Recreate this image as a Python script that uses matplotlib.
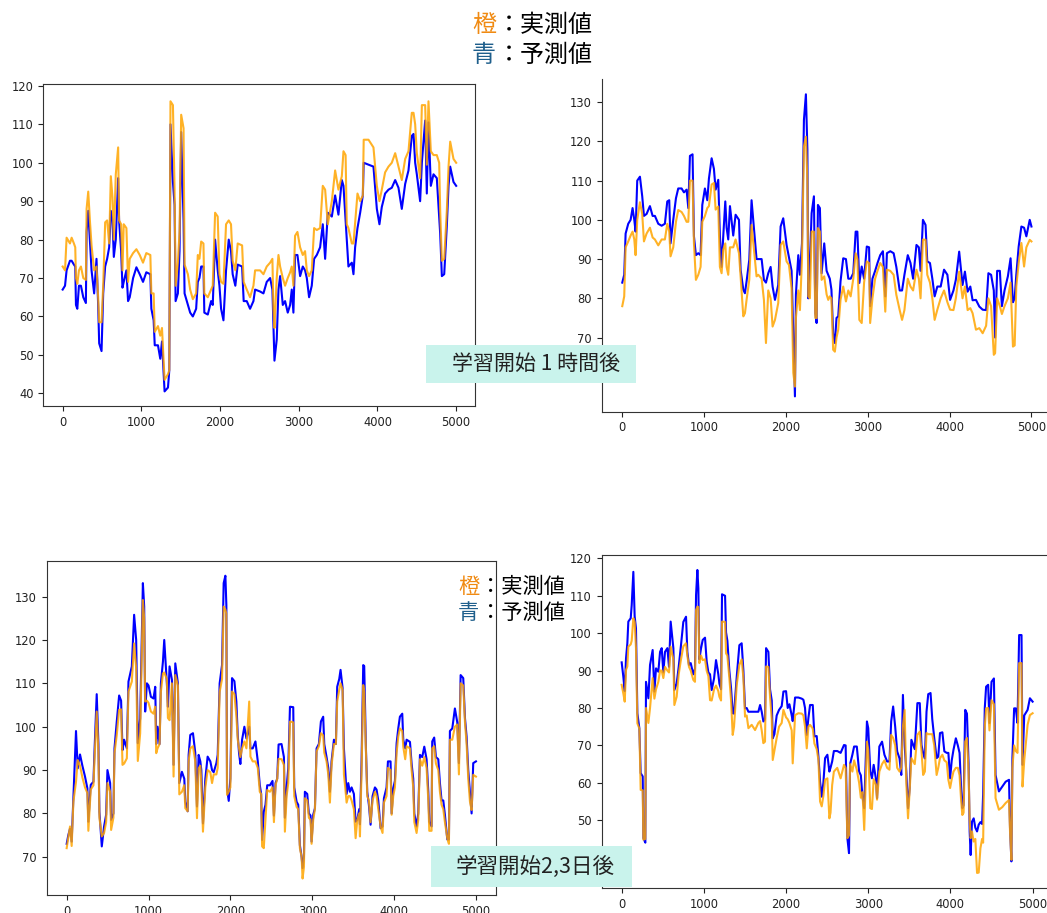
import numpy as np
import matplotlib
matplotlib.use('Agg')
import matplotlib.pyplot as plt
from matplotlib.patches import Rectangle

W, H = 1047, 913

# top-left panel: time step, actual (orange), predicted (blue)
tl_t = [0, 30, 50, 93, 114, 143, 160, 169, 186, 207,
        232, 262, 295, 304, 325, 346, 367, 400, 430, 451,
        464, 494, 515, 540, 565, 591, 612, 633, 650, 675,
        705, 717, 743, 760, 776, 810, 831, 852, 895, 937,
        979, 1021, 1063, 1114, 1127, 1156, 1170, 1211, 1240, 1262,
        1295, 1338, 1355, 1370, 1401, 1422, 1435, 1464, 1485, 1506,
        1536, 1549, 1591, 1620, 1654, 1696, 1717, 1738, 1760, 1789,
        1800, 1844, 1886, 1907, 1937, 1970, 1992, 2013, 2043, 2076,
        2110, 2139, 2160, 2194, 2224, 2280, 2300, 2339, 2381, 2424,
        2445, 2508, 2551, 2593, 2636, 2665, 2678, 2691, 2720, 2742,
        2763, 2797, 2826, 2860, 2890, 2911, 2932, 2953, 2983, 3017,
        3051, 3080, 3102, 3131, 3165, 3195, 3229, 3271, 3305, 3335,
        3369, 3420, 3462, 3504, 3547, 3568, 3595, 3610, 3631, 3674,
        3695, 3716, 3746, 3780, 3814, 3825, 3886, 3949, 3992, 4025,
        4055, 4097, 4140, 4182, 4225, 4267, 4309, 4352, 4394, 4436,
        4458, 4479, 4500, 4542, 4564, 4606, 4627, 4648, 4678, 4712,
        4754, 4784, 4797, 4818, 4848, 4881, 4903, 4924, 4966, 5000]
tl_act = [73, 72, 80.5, 79, 80.5, 79, 78, 70, 68.5, 72,
          73, 70, 69.5, 88, 92.5, 85, 78.5, 72, 73, 65,
          58.5, 58.5, 68, 84.5, 85, 79, 96.5, 91, 80, 97,
          104, 85, 84, 72, 84, 83, 69, 75, 76.5, 77.5,
          76, 74, 76.5, 76, 66, 66, 56, 57.5, 55, 57,
          43.5, 45, 46, 116, 115, 93, 68, 74, 82, 112.5,
          109, 73.5, 71, 67, 64.5, 66, 76, 75, 79.5, 79,
          66, 65, 67, 68, 87, 86, 71, 69, 68.5, 84,
          85, 84, 74.5, 72, 79, 78.5, 69, 67, 65, 68,
          72, 72, 71, 73, 74, 75, 62, 57, 70, 76,
          73, 70, 68, 70, 71.5, 73, 68, 81, 82, 78,
          76, 77, 72, 70.5, 72, 83, 82.5, 83, 94, 93,
          84, 90, 98, 93, 96.5, 103, 102, 84, 83, 79,
          79, 84.5, 92, 90, 91.5, 106, 106, 104, 94, 90,
          93, 97.5, 99, 100, 102.5, 99, 95.5, 101, 103, 113,
          113, 110, 102.5, 96, 115, 115, 99.5, 116, 103, 102,
          102, 100, 87.5, 74.5, 75, 87.5, 99, 105.5, 101, 100]
tl_pred = [67, 68, 72, 74.5, 74.5, 73.5, 73, 63, 62, 68,
           68, 65, 63.5, 82, 87.5, 80, 72, 66, 75, 63,
           53, 51, 66, 73, 75, 78, 87.5, 85, 75.5, 80,
           96, 85, 77, 67.5, 69, 72, 64, 65, 70, 72.8,
           71, 69, 71.5, 71, 62, 59, 52.5, 52.5, 49, 53.5,
           40.5, 41.5, 46, 110, 95, 89, 64, 66, 77, 108,
           85, 66, 63, 61, 60, 62, 69, 70, 73, 73,
           61, 60.5, 64, 63, 80, 72, 68, 62, 59, 72,
           80, 77, 71, 68, 73.5, 73, 64, 64, 62, 64,
           67, 66.5, 66, 69, 70, 67, 58, 48.5, 54, 67,
           70.5, 63, 64, 61, 63, 67, 61, 76, 76, 70.5,
           73, 72, 70, 65, 68, 75, 76, 78, 84, 75,
           87, 86, 91.5, 86.5, 95.5, 94, 85, 80, 73, 74,
           71, 78, 83, 87, 91.5, 100, 99.5, 99, 88, 84,
           88.5, 92, 93, 93.5, 95.5, 93.5, 88, 94.5, 98, 107,
           107.5, 100, 97, 90, 100, 111, 92, 110.5, 94, 97,
           96, 86, 81.5, 70.5, 71, 83.5, 94, 99, 95, 94]

# top-right panel
tr_t = [0, 24, 41, 73, 102, 126, 147, 163, 183, 216,
        244, 265, 297, 338, 371, 399, 440, 481, 521, 550,
        574, 590, 623, 656, 684, 725, 754, 786, 807, 827,
        859, 876, 900, 929, 957, 978, 1010, 1039, 1059, 1092,
        1120, 1141, 1173, 1193, 1214, 1234, 1259, 1275, 1295, 1316,
        1356, 1385, 1426, 1446, 1479, 1499, 1519, 1552, 1580, 1621,
        1641, 1662, 1703, 1731, 1756, 1784, 1813, 1837, 1866, 1906,
        1935, 1967, 2008, 2037, 2069, 2090, 2110, 2122, 2151, 2171,
        2196, 2220, 2244, 2262, 2273, 2293, 2314, 2342, 2359, 2375,
        2391, 2415, 2436, 2468, 2497, 2517, 2536, 2556, 2577, 2598,
        2618, 2639, 2667, 2700, 2733, 2762, 2791, 2823, 2852, 2873,
        2897, 2926, 2955, 2988, 3016, 3029, 3057, 3090, 3119, 3152,
        3185, 3214, 3234, 3275, 3316, 3349, 3390, 3419, 3448, 3489,
        3522, 3554, 3595, 3624, 3645, 3674, 3706, 3727, 3760, 3789,
        3817, 3850, 3891, 3932, 3973, 4006, 4047, 4076, 4117, 4158,
        4187, 4220, 4253, 4281, 4322, 4363, 4404, 4446, 4474, 4507,
        4540, 4556, 4581, 4614, 4639, 4671, 4712, 4745, 4774, 4795,
        4815, 4844, 4877, 4910, 4938, 4979, 5000]
tr_act = [78, 80.5, 93, 94.5, 96, 97, 95, 91, 100, 104.5,
          101.5, 94.5, 96.5, 98, 95.5, 95, 93.5, 95, 95, 99,
          97, 90.7, 93, 99.5, 102.5, 102, 101, 99.5, 99.5, 110,
          110, 94, 84.7, 86, 88, 99.5, 101, 103, 103.5, 109,
          109.4, 102.6, 103.4, 88, 86.4, 92.4, 94, 88, 86, 93,
          93, 95, 91.5, 85.6, 75.4, 76.2, 79.6, 84.7, 98.7, 90,
          85.6, 86, 85, 79.6, 68.6, 82, 80, 72.8, 74.5, 78.8,
          93.6, 94.5, 89.4, 88.5, 82.6, 61, 57.5, 75, 82, 77,
          90, 118.7, 121.2, 110, 80.5, 80, 97, 97, 75, 75,
          97.9, 97, 84.7, 85.6, 81, 79.6, 80.5, 80, 66.9, 66.4,
          70, 72, 79.6, 83, 79.2, 82, 80.5, 85, 91.5, 90,
          74.5, 73.7, 84, 89.4, 89, 73.7, 80, 85, 87, 89,
          88, 76.6, 87.3, 87, 86, 80.9, 77, 74.5, 77, 85,
          83, 82, 87.3, 85, 80, 95, 94.9, 86, 84, 80,
          74.5, 77.1, 80, 82, 79, 77.1, 77, 80, 86.8, 80,
          83, 77, 77.5, 76.2, 72, 72.4, 71.1, 73, 80, 78,
          65.6, 66, 80, 78, 76, 78, 80, 84, 67.7, 68,
          83, 89, 94.1, 88.1, 93, 94.9, 94.5]
tr_pred = [84, 86, 96.5, 99, 100, 103, 100, 97, 110, 111,
           106, 101, 101.5, 103.5, 101, 101, 99, 98.5, 99, 104.7,
           105, 94, 100, 105.5, 108, 108, 107, 107.7, 103, 116.3,
           116.7, 95.8, 91, 91.5, 91, 103.8, 108, 105, 110.5, 115.7,
           113, 107.7, 110.2, 96, 88, 95.8, 104.7, 98, 95, 103.5,
           96, 101.3, 100, 87.3, 82.2, 81.3, 84.3, 89.8, 105, 95,
           90, 90, 90, 84.7, 84, 86.4, 88, 83, 79.6, 83.4,
           98.3, 100.4, 93.6, 90.5, 87, 70.3, 55, 81, 91, 86,
           94, 125.5, 132, 118, 80, 89.5, 101.7, 106, 76.2, 73.7,
           103.8, 103, 86.4, 94, 87, 86, 85, 82.2, 71.1, 68.6,
           75, 75.4, 84.3, 90.2, 90, 85, 85, 86.4, 97, 97,
           83.9, 88.1, 85, 93.2, 93, 78, 85, 87, 89, 91,
           92, 80.5, 91.5, 92, 91.5, 88, 82, 82, 86, 91,
           89, 85, 93.6, 93, 87, 100, 98.7, 89.4, 89, 85,
           80.5, 83, 83, 87.3, 86, 79.6, 82, 84.7, 91.9, 83.4,
           86.8, 81.7, 83, 79.5, 79.6, 77.9, 77.1, 77, 86.4, 86,
           82, 70, 87, 87, 78, 82, 85.6, 90.2, 79, 80,
           86, 93.2, 98.3, 98, 95.8, 100, 98.3]

# bottom-left panel
bl_t = [0, 20, 41, 61, 82, 114, 135, 163, 192, 224,
        253, 265, 294, 327, 339, 367, 388, 400, 429, 457,
        482, 498, 531, 543, 571, 584, 612, 641, 665, 682,
        702, 735, 755, 796, 824, 849, 869, 898, 931, 947,
        959, 980, 1000, 1029, 1061, 1082, 1094, 1110, 1135, 1151,
        1176, 1192, 1224, 1237, 1257, 1286, 1306, 1327, 1359, 1376,
        1408, 1437, 1449, 1478, 1490, 1510, 1543, 1571, 1592, 1612,
        1633, 1645, 1665, 1694, 1722, 1755, 1776, 1796, 1829, 1845,
        1869, 1898, 1918, 1939, 1951, 1959, 1980, 2000, 2020, 2049,
        2073, 2090, 2106, 2122, 2143, 2171, 2196, 2230, 2245, 2273,
        2306, 2335, 2359, 2376, 2388, 2408, 2429, 2450, 2483, 2515,
        2532, 2552, 2572, 2589, 2625, 2654, 2666, 2687, 2707, 2728,
        2768, 2780, 2809, 2829, 2849, 2870, 2882, 2899, 2910, 2939,
        2959, 2980, 2992, 3012, 3033, 3053, 3081, 3106, 3134, 3147,
        3175, 3196, 3216, 3236, 3265, 3289, 3305, 3330, 3346, 3371,
        3387, 3403, 3420, 3440, 3460, 3481, 3509, 3530, 3550, 3574,
        3583, 3603, 3623, 3635, 3656, 3672, 3692, 3713, 3737, 3766,
        3786, 3807, 3835, 3859, 3876, 3908, 3925, 3957, 3970, 3990,
        4010, 4031, 4051, 4071, 4100, 4112, 4136, 4153, 4194, 4214,
        4234, 4247, 4275, 4295, 4316, 4344, 4369, 4397, 4418, 4430,
        4458, 4466, 4490, 4511, 4540, 4560, 4580, 4601, 4621, 4650,
        4670, 4682, 4711, 4743, 4772, 4792, 4813, 4845, 4866, 4886,
        4906, 4927, 4947, 4967, 5000]
bl_act = [72, 74.5, 77, 72.5, 82.7, 87.3, 92.3, 91, 88.3, 86,
          84.7, 76, 85.5, 86.5, 92, 103.5, 94, 79, 74.7, 75.5,
          78, 87, 85, 76.2, 79, 93.9, 98.1, 103.9, 104, 91.2,
          91.5, 92.7, 108.1, 110.4, 119.2, 113.5, 92.1, 98.5, 129.2, 125,
          105.8, 106, 105.5, 103.5, 103, 104.6, 93.9, 95, 96, 108,
          112.3, 112.5, 111, 102, 101.5, 110, 88.5, 111.9, 109.5, 84.4,
          85, 86.5, 81.2, 80.5, 92, 95, 95.5, 92, 78.9, 90.4,
          91, 87, 75.8, 86, 90, 89.5, 87, 89, 89, 90.5,
          108, 111, 127.7, 127, 126, 84.3, 85, 86, 108.1, 107.5,
          102.5, 97, 95, 93, 95, 96.6, 95, 105.8, 93.1, 92,
          92, 90.5, 85, 84.5, 72.4, 72, 78.9, 85.4, 85, 86,
          78, 86.5, 88, 92.6, 92.5, 91.2, 75.8, 84, 87, 101.2,
          101, 84, 81.5, 81, 72, 70, 65, 67.7, 83.5, 83,
          79, 78.5, 73, 78.5, 81, 94.3, 95.5, 98.5, 98, 94,
          92, 89, 82.5, 91, 96, 96, 105.8, 108.5, 110, 108.5,
          89, 86, 82.5, 84, 84, 83, 81, 74.3, 78.5, 80,
          74.7, 90, 109.6, 108, 94, 84, 83, 78, 83, 85,
          84, 81, 77, 75.5, 82.5, 84, 90.5, 90, 79.7, 84,
          86, 94, 97.7, 99.6, 99, 95.4, 92.5, 95.5, 95, 90,
          86, 78, 75.5, 78.5, 92.5, 91, 93, 90.5, 83, 76,
          76, 95, 95.5, 91.5, 90, 85, 82, 81, 78, 74.3,
          73, 97, 97, 100, 100.5, 89, 110, 109.5, 101, 96,
          88, 82.7, 80.8, 88.9, 88.5]
bl_pred = [73, 75, 76.5, 73.5, 83.5, 99, 90.4, 93.6, 91, 88.5,
           85.8, 78.1, 86.6, 87.3, 93.9, 107.5, 96, 80.4, 72.4, 77,
           79.7, 90, 87, 78.5, 80, 95, 101.2, 107.2, 106, 94.6,
           97, 95, 110.4, 113.9, 125.8, 120, 96.2, 101.9, 133.1, 127.7,
           103.5, 110, 109.5, 106.9, 106.5, 109.2, 96, 100, 96, 110,
           115, 120, 110, 104.6, 113.9, 110.8, 91.2, 114.6, 110, 87,
           89.6, 88, 82.7, 80.5, 93.5, 98.1, 98.5, 94, 81.6, 93.5,
           92, 90, 77.7, 88, 93.1, 92, 90, 89.5, 91.6, 93.5,
           110, 114.2, 133.1, 134.8, 128, 85.8, 82.9, 88.1, 111.2, 110.5,
           105.8, 98, 93.9, 91.4, 97, 100, 97.3, 100, 95, 95,
           96.6, 92, 86.6, 84.5, 73.9, 80.4, 82, 86.5, 86.5, 87.5,
           79.5, 87, 88, 95.9, 96, 93, 79, 86, 90.4, 104.6,
           104.5, 86, 82.7, 82, 72.7, 70, 67.4, 70, 85, 84.5,
           80, 79.5, 73.5, 79.7, 81.2, 95, 96, 101.2, 102.3, 96,
           93, 90.5, 85, 92, 97, 96, 109.2, 111, 113.1, 108.9,
           95, 90, 84.5, 87, 85, 86, 84.5, 78.1, 78.5, 81,
           77.5, 92.5, 114.2, 114, 95, 85, 82, 77.4, 84, 86,
           85.5, 83, 76.6, 77, 83.5, 86, 92, 92, 80, 85.8,
           87.5, 96.2, 99.6, 102.3, 103, 97, 95, 97, 96.5, 91.5,
           88, 80, 77, 80, 93.5, 93, 95.4, 92.5, 85, 78.1,
           77, 96.6, 97.5, 93, 92.5, 87, 83, 83, 79.7, 74,
           74, 99, 99.6, 104.2, 101, 91.6, 111.9, 111.2, 102, 97.7,
           90, 85, 80, 91.6, 92]

# bottom-right panel
br_t = [0, 20, 37, 53, 69, 81, 110, 122, 142, 158,
        174, 191, 215, 231, 256, 264, 288, 296, 325, 345,
        377, 398, 418, 446, 467, 487, 507, 527, 556, 576,
        596, 629, 641, 669, 694, 718, 750, 783, 799, 819,
        840, 872, 892, 905, 921, 933, 945, 966, 986, 1014,
        1034, 1055, 1075, 1095, 1124, 1148, 1176, 1189, 1209, 1221,
        1258, 1270, 1286, 1310, 1331, 1351, 1367, 1400, 1432, 1460,
        1481, 1501, 1521, 1542, 1582, 1623, 1663, 1684, 1704, 1724,
        1744, 1757, 1785, 1805, 1826, 1838, 1858, 1886, 1915, 1947,
        1968, 2000, 2020, 2041, 2069, 2081, 2110, 2150, 2191, 2211,
        2231, 2252, 2272, 2292, 2325, 2345, 2373, 2394, 2414, 2434,
        2454, 2475, 2503, 2527, 2541, 2561, 2582, 2623, 2664, 2705,
        2725, 2746, 2766, 2779, 2807, 2828, 2861, 2889, 2910, 2930,
        2951, 2984, 3000, 3025, 3045, 3066, 3094, 3107, 3135, 3168,
        3197, 3230, 3258, 3279, 3303, 3328, 3352, 3381, 3402, 3422,
        3443, 3463, 3484, 3504, 3525, 3566, 3598, 3627, 3648, 3668,
        3689, 3709, 3730, 3758, 3779, 3803, 3832, 3852, 3873, 3902,
        3926, 3955, 3975, 3996, 4016, 4037, 4066, 4090, 4111, 4131,
        4145, 4160, 4180, 4201, 4221, 4234, 4246, 4262, 4283, 4303,
        4324, 4344, 4365, 4385, 4398, 4418, 4434, 4459, 4475, 4500,
        4529, 4549, 4590, 4631, 4672, 4713, 4725, 4742, 4754, 4775,
        4795, 4816, 4836, 4865, 4877, 4898, 4939, 4967, 5000]
br_act = [86.2, 83.9, 81.7, 90.2, 91.1, 96.4, 97, 98, 104, 103,
          96, 75.9, 74.5, 58.1, 58, 44.8, 45, 80, 76, 80,
          88, 82.5, 85, 87, 90, 90, 88, 91, 90, 89.5,
          96.4, 93, 80.8, 83, 89, 92.5, 96.5, 97.3, 94, 91,
          90, 87.5, 87, 106.2, 107.1, 107, 92, 94, 92.8, 93,
          90, 88.5, 82.1, 82, 85, 86, 84.5, 83, 82, 103.1,
          103, 94.6, 94, 88, 82, 72.8, 75, 86.2, 91.5, 93,
          88, 77.7, 78, 74.6, 75.5, 74.1, 76, 76.5, 74, 70.6,
          71, 91.1, 91, 83, 77, 66.1, 68.5, 72, 75, 76,
          79.5, 77.5, 77, 76, 74, 65.2, 78.1, 78.6, 78.5, 78,
          75, 69.2, 75, 75.5, 74.5, 70.5, 69, 66.1, 55, 53.7,
          56.5, 60.8, 61.2, 50.5, 52, 59.4, 63, 64, 61.2, 64.8,
          64, 45.2, 46, 65, 63, 66, 63.5, 60, 56, 57.5,
          47.4, 71, 68.8, 53.2, 53, 61, 59.5, 55.5, 63, 65,
          66, 64, 63.5, 72.8, 72, 70, 64, 63, 64, 75,
          79.5, 60, 50.5, 58, 66.6, 65, 72.8, 73.7, 68.5, 62.1,
          63, 73.3, 73, 73, 73, 70, 62.1, 64, 66.6, 67.5,
          66, 65.5, 60.8, 58.6, 61, 63, 64, 64, 62, 55,
          51.4, 52, 71, 72, 63, 50, 45.2, 47, 44.3, 45,
          35.9, 36, 42.5, 45, 44, 75, 79.9, 80, 74, 82.1,
          81, 55.9, 52.8, 53.5, 54.6, 55.4, 47, 39.4, 64, 70,
          68.5, 68, 92, 92, 59, 66, 75.5, 78.1, 78.6]
br_pred = [92.2, 88.4, 84.5, 93.3, 97.3, 103.1, 104, 107.5, 116.4, 104.5,
           101.3, 78.6, 74.6, 62.6, 61.7, 45.2, 44, 87, 82.6, 91.5,
           95.5, 84.4, 90.6, 89.7, 95, 96, 89.5, 95, 96, 91,
           103.1, 96, 84.8, 86.5, 91, 96, 103, 104.4, 95, 91.5,
           92, 89, 90.5, 110.2, 116.9, 112, 93, 96, 98.2, 98.8,
           92.5, 89.5, 89, 84.8, 87.9, 92.8, 89, 86.5, 85, 110.4,
           110, 100.2, 98, 90, 85.3, 78.6, 78.5, 88.4, 96.8, 97.3,
           90, 79.9, 80, 79, 79, 79, 79, 80.8, 79, 76.4,
           77, 96, 95, 85, 82, 71.9, 73, 78, 79.5, 80.5,
           84.4, 84.5, 80, 81, 78, 76.5, 82.8, 82.8, 82.5, 82.2,
           80, 72.8, 77.3, 80.8, 80.8, 72.4, 72.5, 67, 60.3, 56.3,
           60, 66.6, 67.5, 63, 64, 65.7, 68.5, 68.5, 68, 70.1,
           70, 45.2, 41.2, 65, 67.5, 69.7, 69.7, 63, 62, 56.3,
           53.2, 76.4, 74.6, 63, 61.2, 64.8, 61, 55.9, 69.7, 71,
           67.5, 65.7, 65.7, 76.4, 80.4, 75, 68.4, 66.5, 62.1, 83.5,
           70, 63, 53.2, 58.6, 71.5, 69, 81.3, 81.3, 70.1, 68,
           66.5, 79, 83.7, 84, 77, 72, 66.6, 67, 73.3, 73.5,
           68.4, 68, 68, 61.2, 66, 68.8, 71.9, 70, 68, 58,
           53.2, 54, 79.5, 78.5, 65, 47, 40.7, 49.6, 50.5, 48,
           47, 48.8, 49.5, 49, 57, 80, 85.7, 86.2, 76, 87,
           87.9, 62.1, 57.7, 59, 60.3, 60.8, 48, 39, 66.6, 79.9,
           79.9, 76, 99.5, 99.5, 64.8, 78, 79.5, 82.6, 81.7]

panels = [
    # data, pixel box (left, top, right, bottom), xlim, ylim, yticks, top spine
    (tl_t, tl_act, tl_pred, (43.3, 84, 475.3, 406), (-246, 5243), (36.7, 120.5), range(40, 121, 10), True),
    (tr_t, tr_act, tr_pred, (601.8, 79, 1051.9, 411.7), (-250, 5250), (51.1, 135.9), range(60, 131, 10), False),
    (bl_t, bl_act, bl_pred, (46.7, 561, 496.4, 895), (-244, 5250), (61.2, 138.2), range(70, 131, 10), True),
    (br_t, br_act, br_pred, (601.7, 555, 1053, 888.3), (-243, 5248), (31.8, 120.9), range(40, 121, 10), True),
]

fig = plt.figure(figsize=(W / 100, H / 100), dpi=100)

for t, act, pred, box, xl, yl, yt, top in panels:
    l, tp, r, b = box
    ax = fig.add_axes([l / W, 1 - b / H, (r - l) / W, (b - tp) / H])
    ax.plot(t, pred, color='blue', lw=1.5)
    ax.plot(t, act, color='orange', lw=1.5, alpha=0.85)
    ax.set_xlim(*xl)
    ax.set_ylim(*yl)
    ax.set_xticks([0, 1000, 2000, 3000, 4000, 5000])
    ax.set_yticks(list(yt))
    ax.tick_params(labelsize=8.3, colors='#222222')
    for s in ax.spines.values():
        s.set_color('#333333')
    ax.spines['top'].set_visible(top)

cjk = ['Noto Sans CJK JP', 'DejaVu Sans']
orange_txt = '#f08a12'
blue_txt = '#1f5f8c'


def legend(x, y1, y2, size, em):
    fig.text(x / W, 1 - y1 / H, '橙', color=orange_txt, fontsize=size,
             family=cjk, ha='left', va='center')
    fig.text((x + em) / W, 1 - y1 / H, '：実測値', color='black', fontsize=size,
             family=cjk, ha='left', va='center')
    fig.text(x / W, 1 - y2 / H, '青', color=blue_txt, fontsize=size,
             family=cjk, ha='left', va='center')
    fig.text((x + em) / W, 1 - y2 / H, '：予測値', color='black', fontsize=size,
             family=cjk, ha='left', va='center')


legend(472, 25, 55, 17.3, 25)
legend(458, 587, 613, 15.3, 22)


def label_box(l, t, r, b, text, dx, size):
    fig.add_artist(Rectangle((l / W, 1 - b / H), (r - l) / W, (b - t) / H,
                             transform=fig.transFigure, facecolor='#c9f3ec',
                             edgecolor='none', zorder=5))
    fig.text(((l + r) / 2 + dx) / W, 1 - (t + b) / 2 / H, text, fontsize=size,
             family=cjk, color='#222222', ha='center', va='center', zorder=6)


label_box(426, 345, 636, 383, '学習開始 1 時間後', 5, 15.1)
label_box(431, 846, 632, 887, '学習開始2,3日後', 4, 15.5)

fig.savefig('out.png', dpi=100)
